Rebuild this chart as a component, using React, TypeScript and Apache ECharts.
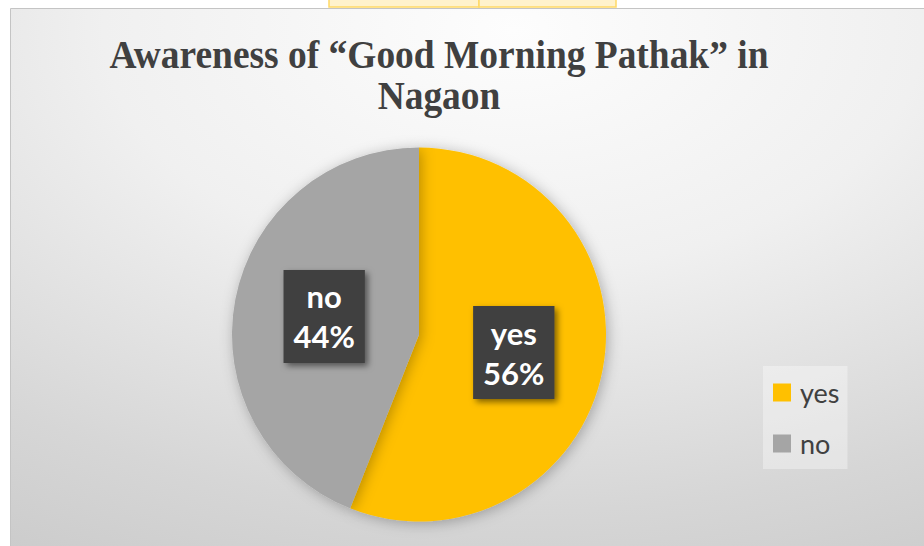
import React, { useEffect, useRef } from "react";
import * as echarts from "echarts";

const titleLines = ["Awareness of “Good Morning Pathak” in", "Nagaon"];
const categories = ["yes", "no"];
const values = [56, 44];
const colors = ["#FFC000", "#A5A5A5"];

export default function App() {
  const ref = useRef<HTMLDivElement>(null);
  useEffect(() => {
    document.body.style.margin = "0";
    const chart = echarts.init(ref.current!, null, { renderer: "svg" });
    chart.setOption({
      animation: false,
      backgroundColor: "#ffffff",
      graphic: [
        {
          type: "rect",
          z: -10,
          shape: { x: 10.5, y: 8.5, width: 914, height: 538 },
          style: {
            fill: new echarts.graphic.RadialGradient(0.55, 0.04, 1.28, [
              { offset: 0, color: "#fdfdfd" },
              { offset: 0.35, color: "#f0f0f0" },
              { offset: 0.7, color: "#d6d6d6" },
              { offset: 1, color: "#c4c4c4" },
            ]),
            stroke: "#c4c4c4",
            lineWidth: 1,
          },
        },
        {
          type: "rect",
          z: -5,
          shape: { x: 329, y: -2, width: 150, height: 9 },
          style: { fill: "#FFF2CC", stroke: "#FFD966", lineWidth: 1.5 },
        },
        {
          type: "rect",
          z: -5,
          shape: { x: 479, y: -2, width: 137, height: 9 },
          style: { fill: "#FFF2CC", stroke: "#FFD966", lineWidth: 1.5 },
        },
        {
          type: "text",
          x: 439,
          y: 34,
          scaleX: 0.96,
          style: {
            text: titleLines.join("\n"),
            fontFamily: "Liberation Serif",
            fontWeight: "bold",
            fontSize: 39,
            lineHeight: 41,
            fill: "#404040",
            textAlign: "center",
            textVerticalAlign: "top",
          },
        },
      ],
      legend: {
        orient: "vertical",
        left: 763,
        top: 366,
        data: categories,
        icon: "rect",
        itemWidth: 18,
        itemHeight: 18,
        itemGap: 24,
        padding: [13, 8, 12, 10],
        backgroundColor: "rgba(255,255,255,0.35)",
        textStyle: {
          fontFamily: "Lato",
          fontSize: 27,
          color: "#404040",
          padding: [0, 0, 0, 4],
        },
      },
      series: [
        {
          type: "pie",
          center: [419, 334.5],
          radius: 187,
          startAngle: 90,
          clockwise: true,
          percentPrecision: 0,
          data: categories.map((c, i) => ({
            name: c,
            value: values[i],
            itemStyle: { color: colors[i] },
          })),
          itemStyle: {
            borderWidth: 0,
            shadowBlur: 14,
            shadowColor: "rgba(0,0,0,0.28)",
            shadowOffsetX: 2,
            shadowOffsetY: 2,
          },
          label: {
            show: true,
            position: "inside",
            formatter: "{b}\n{d}%",
            fontFamily: "Lato",
            fontWeight: "bold",
            fontSize: 31,
            lineHeight: 40,
            color: "#ffffff",
            align: "center",
            backgroundColor: "#414141",
            padding: [7, 10, 6, 10],
            shadowColor: "rgba(0,0,0,0.5)",
            shadowBlur: 6,
            shadowOffsetX: 3,
            shadowOffsetY: 3,
          },
          labelLine: { show: false },
          emphasis: { disabled: true },
        },
      ],
    });
    return () => chart.dispose();
  }, []);
  return (
    <div
      ref={ref}
      style={{ position: "absolute", left: 0, top: 0, width: 924, height: 546 }}
    />
  );
}
